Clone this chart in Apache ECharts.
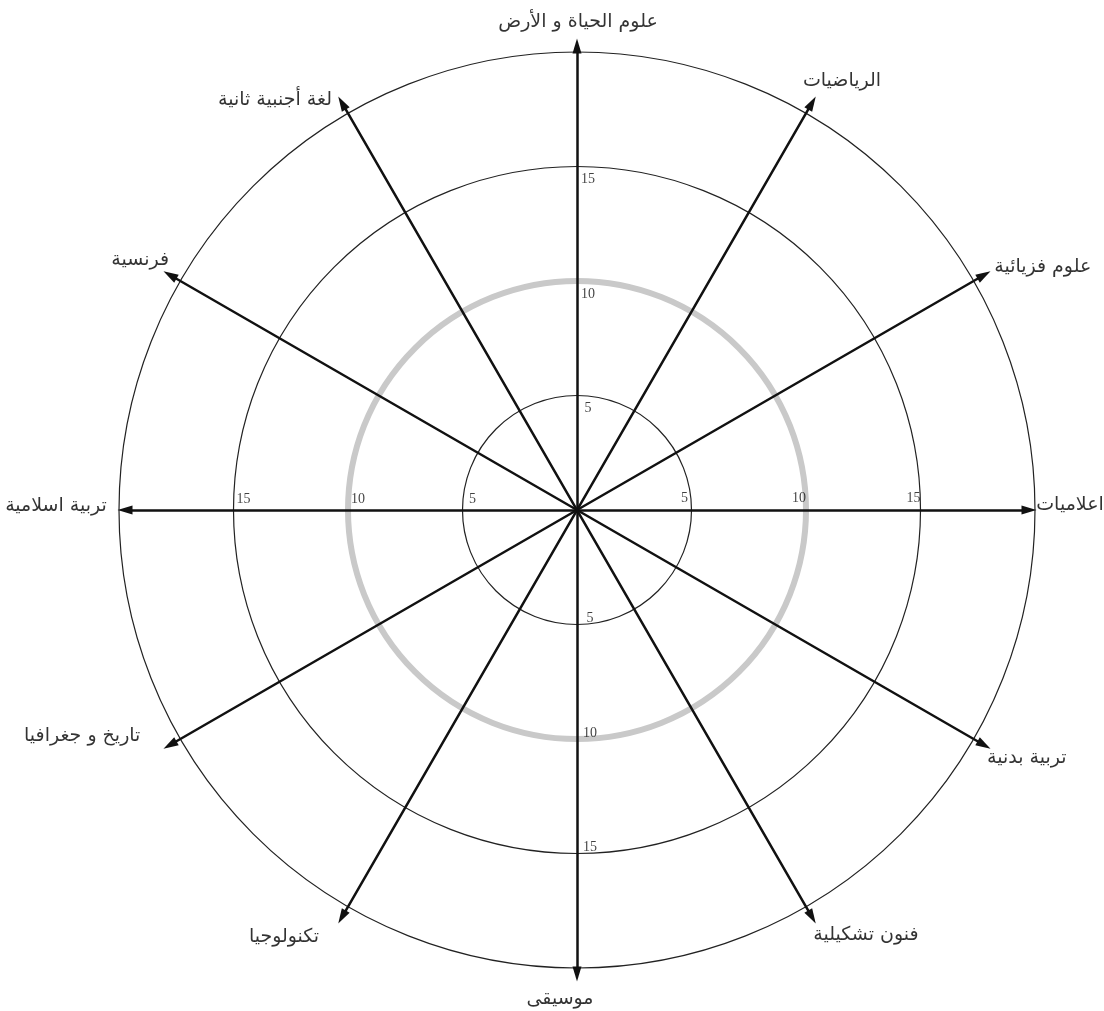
<!DOCTYPE html>
<html>
<head>
<meta charset="utf-8">
<script src="https://cdn.jsdelivr.net/npm/echarts@6/dist/echarts.min.js"></script>
<style>
html,body{margin:0;padding:0;background:#fff;}
#c{width:1104px;height:1011px;}
</style>
</head>
<body>
<div id="c"></div>
<script>
// ---- data ----
const subjects = [
  'علوم الحياة و الأرض',
  'الرياضيات',
  'علوم فزيائية',
  'اعلاميات',
  'تربية بدنية',
  'فنون تشكيلية',
  'موسيقى',
  'تكنولوجيا',
  'تاريخ و جغرافيا',
  'تربية اسلامية',
  'فرنسية',
  'لغة أجنبية ثانية'
];
const scaleMax = 20;
const scaleInterval = 5;
const highlightRing = 10;
const tickValues = [5, 10, 15];
const tickLabelAxes = [0, 3, 6, 9]; // subjects whose spoke carries the scale numbers

// ---- layout / style ----
const CX = 577, CY = 510, R = 458;
const step = 360 / subjects.length;
// spokes grouped into evenly spaced sets (so each set is one radar); line length per set
const spokeSets = [
  {first: 0, every: 6, radius: 464}, // vertical
  {first: 3, every: 6, radius: 452}, // horizontal
  {first: 1, every: 3, radius: 470}, // diagonals
  {first: 2, every: 3, radius: 470}  // diagonals
];
const nameOffsets = [
  [1, -16], [29, -20], [57, -7], [21, -5], [41, 12], [53, 16],
  [-17, 17], [-57, 18], [-86, -10], [-49, -4], [-28, -14], [-66, -1]
];
const nameAnchor = 472;
const tipValue = scaleMax * nameAnchor / R;
const tickOffsets = [[11, 13], [-7, -12], [13, -6], [10, -11]];

const chart = echarts.init(document.getElementById('c'));
const hidden = {show: false};

const radars = spokeSets.map(s => {
  const idx = [];
  for (let i = s.first; i < subjects.length; i += s.every) idx.push(i);
  return {
    center: [CX, CY], radius: s.radius, startAngle: 90 - s.first * step, shape: 'circle', z: 5,
    indicator: idx.map(i => ({name: subjects[i], max: scaleMax})),
    axisName: hidden, splitLine: hidden, splitArea: hidden,
    axisLine: {show: true, symbol: ['none', 'triangle'], symbolSize: [9, 15], lineStyle: {color: '#111', width: 2.5}}
  };
});

const series = [{
  type: 'scatter',
  coordinateSystem: 'polar',
  polarIndex: 0,
  clip: false,
  silent: true,
  symbolSize: 0,
  z: 6,
  data: subjects.map((n, i) => ({name: n, value: [tipValue, i * step], label: {offset: nameOffsets[i]}})),
  label: {show: true, position: 'inside', formatter: '{b}', fontFamily: 'DejaVu Sans', fontSize: 19, color: '#000'}
}];
tickLabelAxes.forEach((ai, k) => {
  series.push({
    type: 'scatter',
    coordinateSystem: 'polar',
    polarIndex: 0,
    clip: false,
    silent: true,
    symbolSize: 0,
    z: 6,
    data: tickValues.map(v => [v, ai * step]),
    label: {show: true, position: 'inside', formatter: p => String(p.value[0]), offset: tickOffsets[k],
            fontFamily: 'Liberation Serif', fontSize: 14, color: '#111'}
  });
});

chart.setOption({
  backgroundColor: '#fff',
  animation: false,
  polar: [
    {center: [CX, CY], radius: R},
    {center: [CX, CY], radius: R * highlightRing / scaleMax}
  ],
  angleAxis: [
    {polarIndex: 0, type: 'value', min: 0, max: 360, startAngle: 90, clockwise: true,
     axisLine: hidden, axisTick: hidden, axisLabel: hidden, splitLine: hidden, z: 1},
    {polarIndex: 1, type: 'value', min: 0, max: 360, startAngle: 90, clockwise: true,
     axisLine: {show: true, lineStyle: {color: '#c9c9c9', width: 6}}, axisTick: hidden, axisLabel: hidden, splitLine: hidden, z: 2}
  ],
  radiusAxis: [
    {polarIndex: 0, type: 'value', min: 0, max: scaleMax, interval: scaleInterval,
     axisLine: hidden, axisTick: hidden, axisLabel: hidden,
     splitLine: {show: true, lineStyle: {color: '#222', width: 1.2}}, z: 1},
    {polarIndex: 1, type: 'value', min: 0, max: highlightRing, interval: highlightRing,
     axisLine: hidden, axisTick: hidden, axisLabel: hidden, splitLine: hidden, z: 2}
  ],
  radar: radars,
  series: series
});
</script>
</body>
</html>
